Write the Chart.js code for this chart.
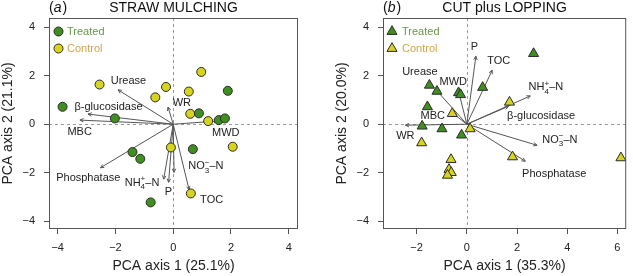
<!DOCTYPE html>
<html>
<head>
<meta charset="utf-8">
<script src="https://cdn.jsdelivr.net/npm/chart.js@4"></script>
<style>
    html, body { margin: 0; padding: 0; background: #fff; }
    #wrap { position: relative; width: 633px; height: 276px; overflow: hidden; }
    canvas { position: absolute; top: 0; }
    #chartA { left: 0; }
    #chartB { left: 316px; }
</style>
</head>
<body>
<div id="wrap">
    <canvas id="chartA" width="316" height="276"></canvas>
    <canvas id="chartB" width="317" height="276"></canvas>
</div>
<script>
// variables shown as arrows (same order in both panels)
const variables = ["Urease", "β-glucosidase", "MBC", "WR", "MWD", "Phosphatase", "NH4+–N", "P", "NO3−–N", "TOC"];

// (a) straw mulching - sample scores
const strawTreated = [[1.89, 1.38], [-3.83, 0.72], [-2.02, 0.24], [0.89, 0.45], [1.58, 0.17], [1.79, 0.24], [0.68, -1.03], [-1.41, -1.15], [-1.14, -1.43], [-0.78, -3.23]];
const strawControl = [[-2.55, 1.64], [-0.25, 1.54], [-0.62, 1.11], [0.97, 2.16], [0.54, 1.35], [0.59, 0.43], [1.21, 0.13], [-0.08, -0.96], [2.06, -0.93], [0.61, -2.86]];

// (a) loadings (arrow tips) and label anchors
const strawLoadX = [-1.91, -2.95, -3.23, -0.18, 1.53, -2.52, -0.33, -0.16, 0.03, 0.55];
const strawLoadY = [1.42, 0.42, 0.17, 0.71, 0.13, -1.80, -2.27, -2.40, -1.99, -2.71];
const strawLabelX = [-1.55, -2.24, -3.24, 0.30, 1.82, -2.94, -1.08, -0.17, 1.13, 1.33];
const strawLabelY = [1.80, 0.72, -0.32, 0.89, -0.37, -2.22, -2.43, -2.78, -1.74, -3.15];

// (b) cut plus lopping - sample scores
const cutTreated = [[-1.49, 1.61], [-1.19, 1.36], [-0.33, 1.30], [-0.25, 1.22], [0.63, 1.52], [-1.57, 0.72], [-1.78, -0.08], [-0.99, -0.19], [-0.21, -0.45], [2.66, 2.92]];
const cutControl = [[-0.58, 0.44], [0.13, -0.19], [-1.80, -0.77], [-0.63, -1.46], [-0.71, -1.87], [-0.62, -2.00], [-0.77, -2.11], [1.70, 0.91], [1.82, -1.35], [6.14, -1.39]];

// (b) loadings and label anchors
const cutLoadX = [-1.25, 1.66, -0.55, -2.45, -0.31, 2.33, 2.53, 0.36, 2.80, 1.01];
const cutLoadY = [1.45, 0.74, 0.45, -0.04, 1.28, -1.53, 1.17, 2.81, -0.87, 2.23];
const cutLabelX = [-1.87, 2.96, -1.36, -2.45, -0.54, 3.48, 3.15, 0.30, 3.71, 1.27];
const cutLabelY = [2.14, 0.33, 0.33, -0.50, 1.75, -2.04, 1.52, 3.19, -0.63, 2.60];

// tick labels
const strawXTicks = [-4, -2, 0, 2, 4];
const cutXTicks = [-2, 0, 2, 4, 6];
const yTicks = [-4, -2, 0, 2, 4];

const FONT = "'Liberation Sans', Arial, Helvetica, sans-serif";
const TREATED_FILL = "#3f8f1f";
const CONTROL_FILL = "#d6d41c";
const MARK_EDGE = "#2b2b2b";

function fmt(v) {
    return v < 0 ? "\u2212" + Math.abs(v) : String(v);
}

function labelParts(name) {
    const m = name.match(/^(NH|NO)(\d)([+−])(–N)$/);
    if (!m) {
        return [{ t: name }];
    }
    return [{ t: m[1] }, { sub: m[2], sup: m[3] }, { t: m[4] }];
}

function drawRichLabel(ctx, name, cx, cy) {
    const parts = labelParts(name);
    const big = "11px " + FONT;
    const small = "8px " + FONT;
    let total = 0;
    parts.forEach(p => {
        if (p.t) {
            ctx.font = big;
            p.w = ctx.measureText(p.t).width;
        } else {
            ctx.font = small;
            p.w = Math.max(ctx.measureText(p.sub).width, ctx.measureText(p.sup).width);
        }
        total += p.w;
    });
    let x = cx - total / 2;
    ctx.textAlign = "left";
    ctx.textBaseline = "middle";
    parts.forEach(p => {
        if (p.t) {
            ctx.font = big;
            ctx.fillText(p.t, x, cy);
        } else {
            ctx.font = small;
            ctx.fillText(p.sub, x, cy + 4);
            ctx.fillText(p.sup, x, cy - 4);
        }
        x += p.w;
    });
}

function drawArrow(ctx, x0, y0, x1, y1) {
    ctx.beginPath();
    ctx.moveTo(x0, y0);
    ctx.lineTo(x1, y1);
    ctx.stroke();
    const a = Math.atan2(y1 - y0, x1 - x0);
    const h = 4;
    ctx.beginPath();
    ctx.moveTo(x1 - h * Math.cos(a - 0.45), y1 - h * Math.sin(a - 0.45));
    ctx.lineTo(x1, y1);
    ctx.lineTo(x1 - h * Math.cos(a + 0.45), y1 - h * Math.sin(a + 0.45));
    ctx.stroke();
}

function drawMarker(ctx, style, x, y, fill) {
    ctx.fillStyle = fill;
    ctx.strokeStyle = MARK_EDGE;
    ctx.lineWidth = 1;
    ctx.beginPath();
    if (style === "triangle") {
        const r = 5.8;
        ctx.moveTo(x, y - r);
        ctx.lineTo(x + r * 0.866, y + r * 0.5);
        ctx.lineTo(x - r * 0.866, y + r * 0.5);
        ctx.closePath();
    } else {
        ctx.arc(x, y, 4.5, 0, Math.PI * 2);
    }
    ctx.fill();
    ctx.stroke();
}

const biplotDecor = {
    id: "biplotDecor",

    beforeDatasetsDraw(chart, args, opts) {
        const { ctx, chartArea: area, scales: { x, y } } = chart;
        const ox = x.getPixelForValue(0);
        const oy = y.getPixelForValue(0);
        ctx.save();
        ctx.strokeStyle = "#9a9a9a";
        ctx.lineWidth = 1;
        ctx.setLineDash([3, 3]);
        ctx.beginPath();
        ctx.moveTo(Math.round(ox) + 0.5, area.top);
        ctx.lineTo(Math.round(ox) + 0.5, area.bottom);
        ctx.moveTo(area.left, Math.round(oy) + 0.5);
        ctx.lineTo(area.right, Math.round(oy) + 0.5);
        ctx.stroke();
        ctx.setLineDash([]);
        ctx.strokeStyle = "#555";
        opts.loadX.forEach((lx, i) => {
            drawArrow(ctx, ox, oy, x.getPixelForValue(lx), y.getPixelForValue(opts.loadY[i]));
        });
        ctx.restore();
    },

    afterDraw(chart, args, opts) {
        const { ctx, chartArea: area, scales: { x, y } } = chart;
        ctx.save();

        // variable labels
        ctx.fillStyle = "#222";
        variables.forEach((name, i) => {
            drawRichLabel(ctx, name, x.getPixelForValue(opts.labelX[i]), y.getPixelForValue(opts.labelY[i]));
        });

        // frame
        ctx.strokeStyle = "#555";
        ctx.lineWidth = 1;
        ctx.strokeRect(area.left + 0.5, area.top + 0.5, area.right - area.left - 1, area.bottom - area.top - 1);

        // panel tag and title
        ctx.fillStyle = "#111";
        ctx.textBaseline = "alphabetic";
        ctx.textAlign = "left";
        let tx = area.left;
        ctx.font = "14px " + FONT;
        ctx.fillText("(", tx, 12);
        tx += ctx.measureText("(").width;
        ctx.font = "italic 14px " + FONT;
        ctx.fillText(opts.tag, tx, 12);
        tx += ctx.measureText(opts.tag).width + 1;
        ctx.font = "14px " + FONT;
        ctx.fillText(")", tx, 12);
        ctx.textAlign = "center";
        ctx.fillText(opts.title, (area.left + area.right) / 2, 12);

        // legend inside the plot
        const lx = area.left + opts.legendDx;
        drawMarker(ctx, opts.marker, lx, 31.5, TREATED_FILL);
        drawMarker(ctx, opts.marker, lx, 48.5, CONTROL_FILL);
        ctx.font = "11px " + FONT;
        ctx.textAlign = "left";
        ctx.textBaseline = "middle";
        ctx.fillStyle = "#6b9650";
        ctx.fillText("Treated", lx + opts.legendTextDx, 31.5);
        ctx.fillStyle = "#d0a648";
        ctx.fillText("Control", lx + opts.legendTextDx, 48.5);

        ctx.restore();
    }
};

function makePanel(canvas, cfg) {
    const toPoints = arr => arr.map(([px, py]) => ({ x: px, y: py }));
    const markerSize = cfg.marker === "triangle" ? 5.8 : 4.5;

    return new Chart(canvas, {
        type: "scatter",

        data: {
            datasets: [
                {
                    label: "Treated",
                    data: toPoints(cfg.treated),
                    pointStyle: cfg.marker,
                    pointRadius: markerSize,
                    backgroundColor: TREATED_FILL,
                    borderColor: MARK_EDGE,
                    borderWidth: 1
                },
                {
                    label: "Control",
                    data: toPoints(cfg.control),
                    pointStyle: cfg.marker,
                    pointRadius: markerSize,
                    backgroundColor: CONTROL_FILL,
                    borderColor: MARK_EDGE,
                    borderWidth: 1
                }
            ]
        },

        options: {
            responsive: false,
            animation: false,
            devicePixelRatio: 1,

            layout: {
                padding: cfg.padding
            },

            plugins: {
                legend: { display: false },
                tooltip: { enabled: false },
                biplotDecor: cfg.decor
            },

            scales: {
                x: {
                    type: "linear",
                    min: cfg.xMin,
                    max: cfg.xMax,
                    afterBuildTicks: s => { s.ticks = cfg.xTicks.map(v => ({ value: v })); },
                    afterFit: s => { s.height = 47; },
                    ticks: {
                        callback: v => fmt(v),
                        font: { size: 11, family: FONT },
                        color: "#222",
                        padding: 7,
                        maxRotation: 0,
                        autoSkip: false
                    },
                    grid: {
                        display: true,
                        drawOnChartArea: false,
                        drawTicks: true,
                        tickLength: 5,
                        color: "#555"
                    },
                    border: { display: false },
                    title: {
                        display: true,
                        text: cfg.xTitle,
                        font: { size: 14, family: FONT },
                        color: "#222",
                        padding: { top: 0, bottom: 1 }
                    }
                },

                y: {
                    type: "linear",
                    min: -4.33,
                    max: 4.39,
                    afterBuildTicks: s => { s.ticks = yTicks.map(v => ({ value: v })); },
                    afterFit: s => { s.width = 49; },
                    ticks: {
                        callback: v => fmt(v),
                        font: { size: 11, family: FONT },
                        color: "#222",
                        padding: 9,
                        autoSkip: false
                    },
                    grid: {
                        display: true,
                        drawOnChartArea: false,
                        drawTicks: true,
                        tickLength: 5,
                        color: "#555"
                    },
                    border: { display: false },
                    title: {
                        display: true,
                        text: cfg.yTitle,
                        font: { size: 14, family: FONT },
                        color: "#222",
                        padding: { top: 0, bottom: 0 }
                    }
                }
            }
        },

        plugins: [biplotDecor]
    });
}

makePanel(document.getElementById("chartA"), {
    treated: strawTreated,
    control: strawControl,
    marker: "circle",
    xMin: -4.3,
    xMax: 4.32,
    xTicks: strawXTicks,
    xTitle: "PCA axis 1 (25.1%)",
    yTitle: "PCA axis 2 (21.1%)",
    padding: { top: 18, right: 18, bottom: 0, left: 0 },
    decor: {
        tag: "a",
        title: "STRAW MULCHING",
        marker: "circle",
        legendDx: 9.5,
        legendTextDx: 8.5,
        loadX: strawLoadX,
        loadY: strawLoadY,
        labelX: strawLabelX,
        labelY: strawLabelY
    }
});

makePanel(document.getElementById("chartB"), {
    treated: cutTreated,
    control: cutControl,
    marker: "triangle",
    xMin: -3.34,
    xMax: 6.35,
    xTicks: cutXTicks,
    xTitle: "PCA axis 1 (35.3%)",
    yTitle: "PCA axis 2 (20.0%)",
    padding: { top: 18, right: 0, bottom: 0, left: 18 },
    decor: {
        tag: "b",
        title: "CUT plus LOPPING",
        marker: "triangle",
        legendDx: 9,
        legendTextDx: 10,
        loadX: cutLoadX,
        loadY: cutLoadY,
        labelX: cutLabelX,
        labelY: cutLabelY
    }
});
</script>
</body>
</html>
